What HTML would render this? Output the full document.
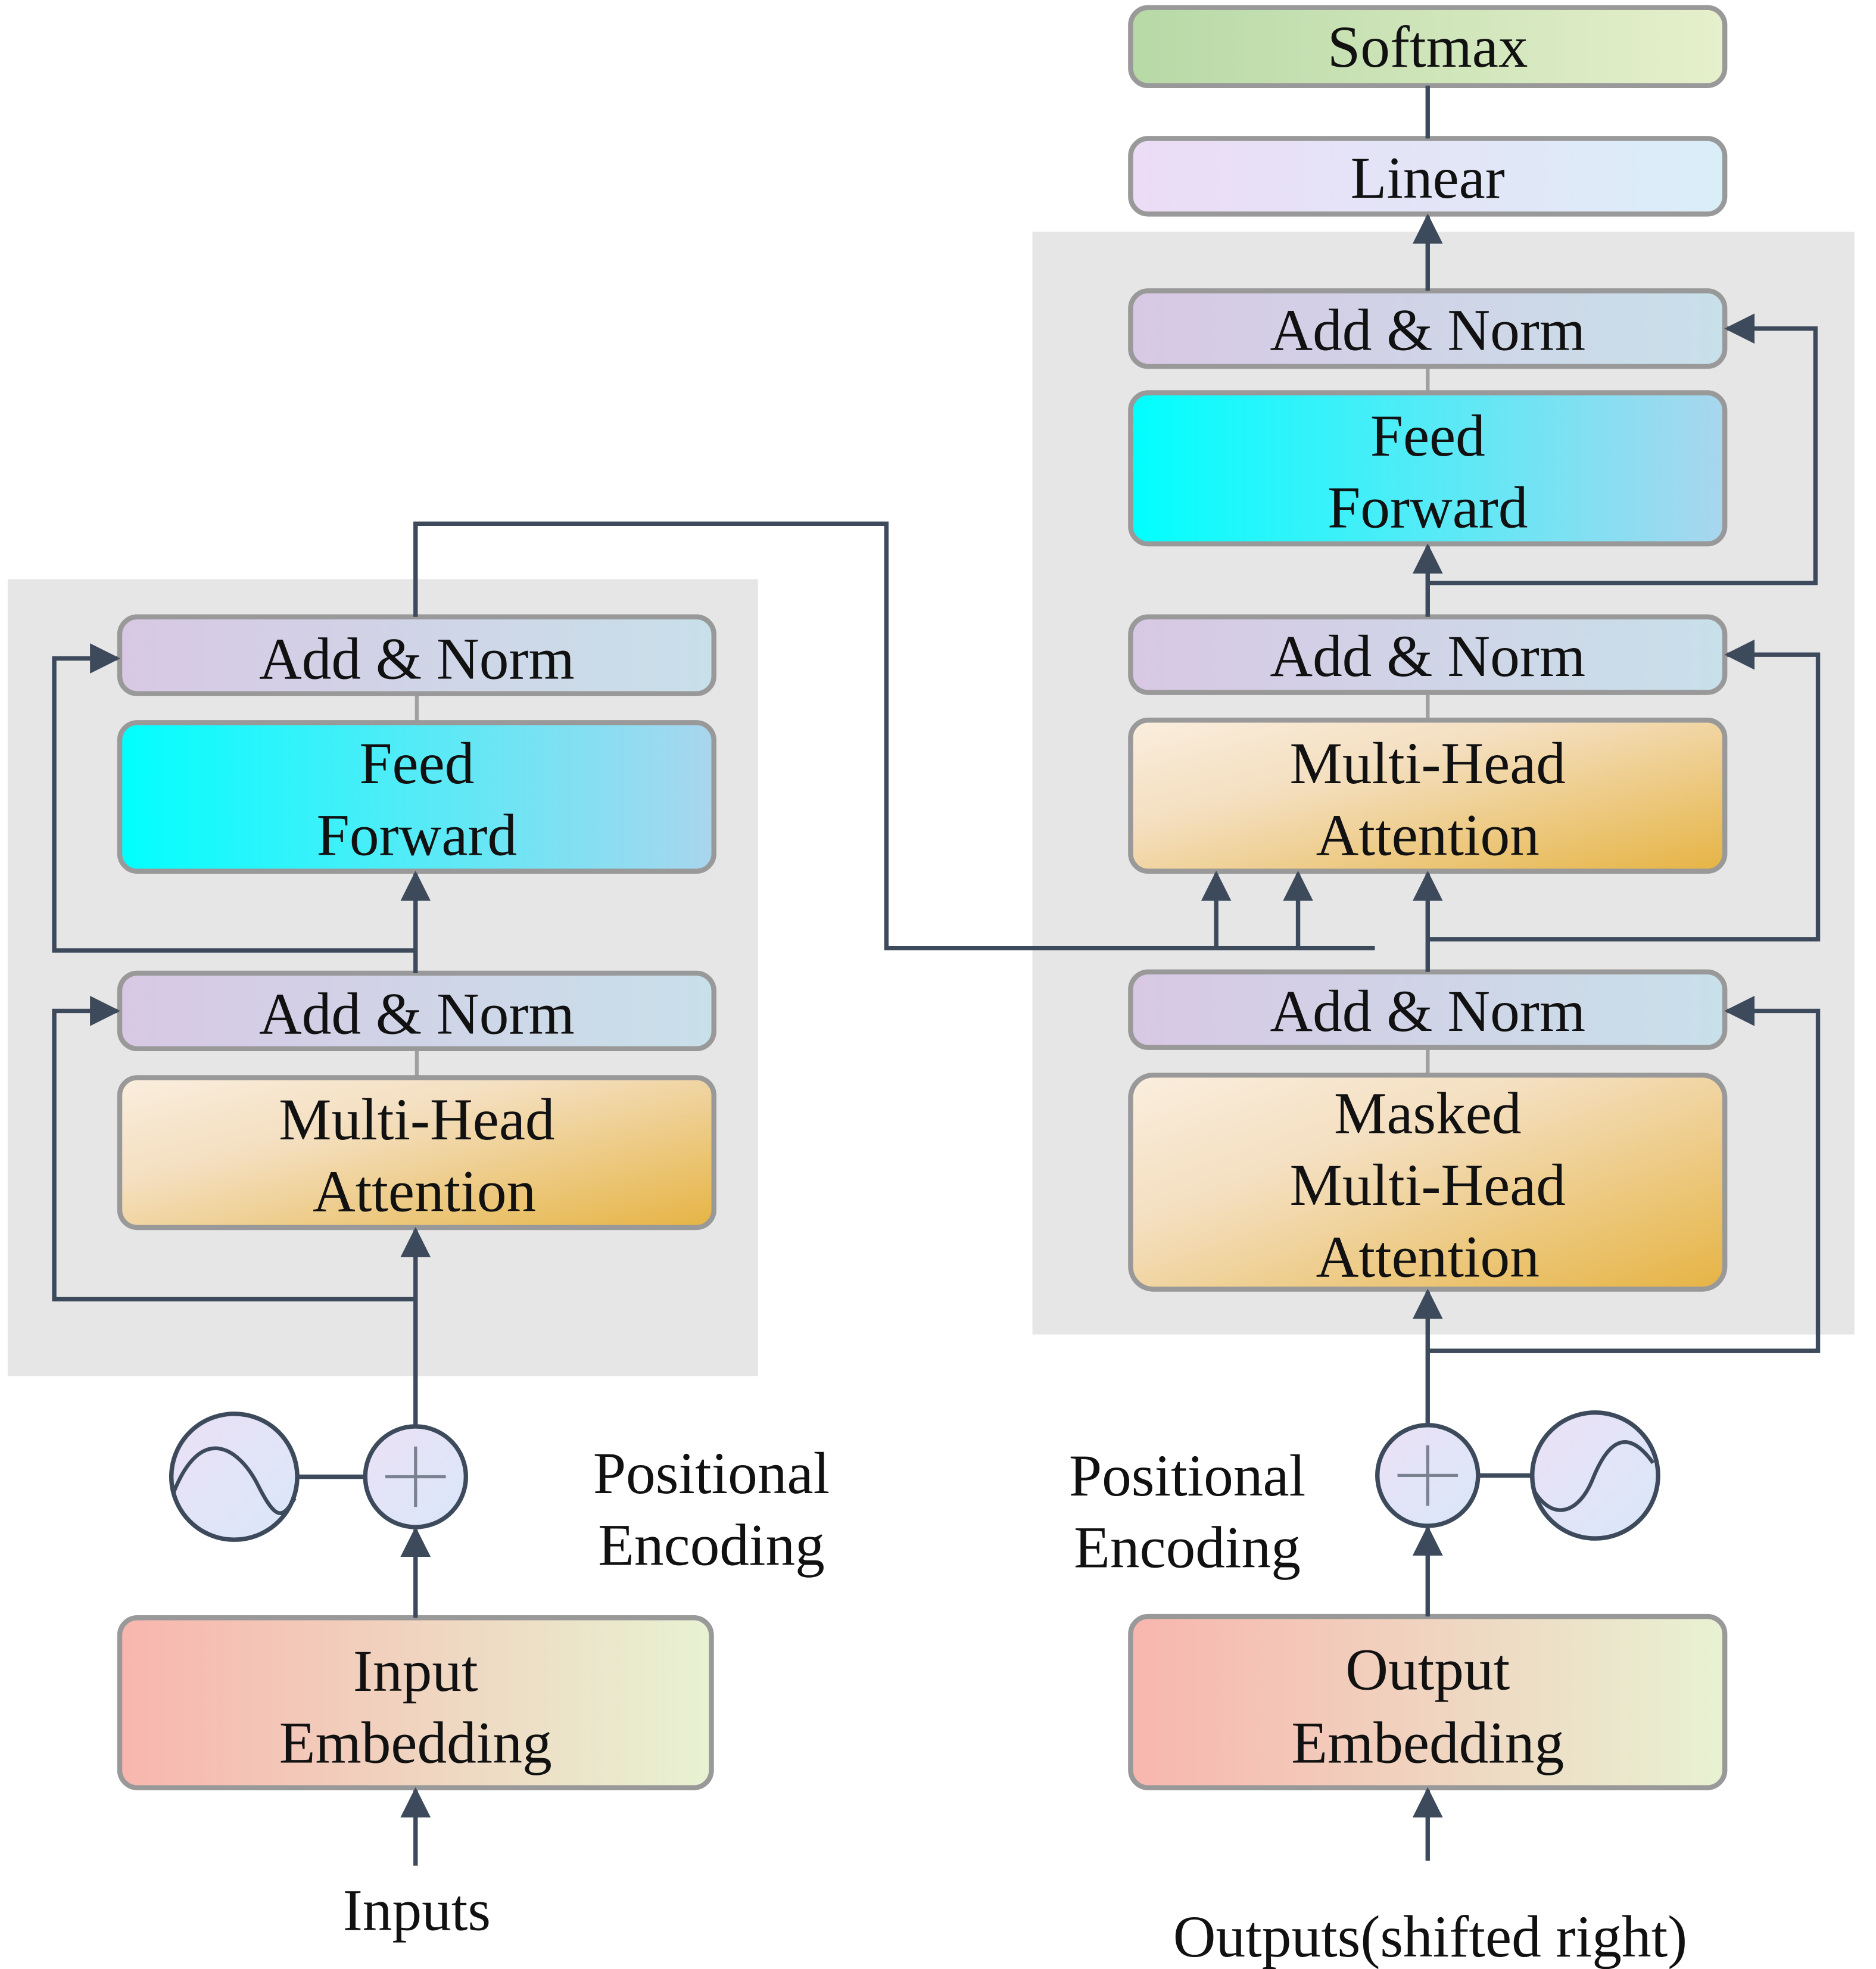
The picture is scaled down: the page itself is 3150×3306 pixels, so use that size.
<!DOCTYPE html>
<html><head><style>html,body{margin:0;padding:0;background:#fff}svg{display:block}</style></head><body>
<svg width="3150" height="3306" viewBox="0 0 1490 1564" xmlns="http://www.w3.org/2000/svg" font-family="Liberation Serif, serif" font-size="47">
<defs>
<linearGradient id="gS" x1="0" y1="0" x2="1" y2="0"><stop offset="0" stop-color="#b7d9a6"/><stop offset="1" stop-color="#e6f0cc"/></linearGradient>
<linearGradient id="gL" x1="0" y1="0" x2="1" y2="0"><stop offset="0" stop-color="#ecdcf6"/><stop offset="1" stop-color="#daeef8"/></linearGradient>
<linearGradient id="gA" x1="0" y1="0" x2="1" y2="0"><stop offset="0" stop-color="#d8c8e4"/><stop offset="1" stop-color="#c8e0ea"/></linearGradient>
<linearGradient id="gF" x1="0" y1="0" x2="1" y2="0"><stop offset="0" stop-color="#00ffff"/><stop offset="1" stop-color="#a9d6ee"/></linearGradient>
<linearGradient id="gM" x1="0" y1="0" x2="1" y2="1"><stop offset="0" stop-color="#faeede"/><stop offset="0.35" stop-color="#f4dfc0"/><stop offset="1" stop-color="#e6b444"/></linearGradient>
<linearGradient id="gE" x1="0" y1="0" x2="1" y2="0"><stop offset="0" stop-color="#f8b6ae"/><stop offset="1" stop-color="#e8f2d2"/></linearGradient>
<linearGradient id="gC" x1="0" y1="0" x2="1" y2="1"><stop offset="0" stop-color="#ece0f6"/><stop offset="1" stop-color="#d8e8f8"/></linearGradient>
<marker id="a2" viewBox="0 0 10 10" refX="9" refY="5" markerWidth="24" markerHeight="24" orient="auto" markerUnits="userSpaceOnUse"><path d="M0,0 L10,5 L0,10z" fill="#3d4a5c"/></marker>
</defs>
<rect x="6" y="460" width="596" height="633" fill="#e6e6e6"/>
<rect x="820" y="184" width="653" height="876" fill="#e6e6e6"/>
<g stroke="#a0a0a0" stroke-width="3">
<line x1="331" y1="551" x2="331" y2="574"/><line x1="331" y1="833" x2="331" y2="856"/>
<line x1="1134" y1="291" x2="1134" y2="312"/><line x1="1134" y1="550" x2="1134" y2="572"/><line x1="1134" y1="832" x2="1134" y2="854"/>
</g>
<g stroke="#999" stroke-width="4">
<rect x="898" y="6" width="472" height="62" rx="14" fill="url(#gS)"/>
<rect x="898" y="110" width="472" height="60" rx="14" fill="url(#gL)"/>
<rect x="898" y="231" width="472" height="60" rx="14" fill="url(#gA)"/>
<rect x="898" y="312" width="472" height="120" rx="14" fill="url(#gF)"/>
<rect x="898" y="490" width="472" height="60" rx="14" fill="url(#gA)"/>
<rect x="898" y="572" width="472" height="120" rx="14" fill="url(#gM)"/>
<rect x="898" y="772" width="472" height="60" rx="14" fill="url(#gA)"/>
<rect x="898" y="854" width="472" height="170" rx="18" fill="url(#gM)"/>
<rect x="898" y="1284" width="472" height="136" rx="14" fill="url(#gE)"/>
<rect x="95" y="490" width="472" height="61" rx="14" fill="url(#gA)"/>
<rect x="95" y="574" width="472" height="118" rx="14" fill="url(#gF)"/>
<rect x="95" y="773" width="472" height="60" rx="14" fill="url(#gA)"/>
<rect x="95" y="856" width="472" height="119" rx="14" fill="url(#gM)"/>
<rect x="95" y="1285" width="470" height="135" rx="14" fill="url(#gE)"/>
</g>
<g stroke="#3d4a5c" stroke-width="3.5" fill="none">
<circle cx="186" cy="1173" r="50" fill="url(#gC)"/>
<circle cx="330" cy="1173" r="40" fill="url(#gC)"/>
<circle cx="1134" cy="1172" r="40" fill="url(#gC)"/>
<circle cx="1267" cy="1172" r="50" fill="url(#gC)"/>
<line x1="236" y1="1173" x2="290" y2="1173"/>
<line x1="1174" y1="1172" x2="1217" y2="1172"/>
<path d="M138,1185 C160,1130 190,1150 205,1180 S225,1205 234,1190" stroke-width="3"/>
<path d="M1219,1185 C1235,1210 1255,1200 1265,1175 S1290,1130 1313,1162" stroke-width="3"/>
</g>
<g stroke="#7a8290" stroke-width="2.5">
<line x1="306" y1="1173" x2="354" y2="1173"/><line x1="330" y1="1149" x2="330" y2="1197"/>
<line x1="1110" y1="1172" x2="1158" y2="1172"/><line x1="1134" y1="1148" x2="1134" y2="1196"/>
</g>
<g stroke="#3d4a5c" stroke-width="3.5" fill="none">
<line x1="330" y1="1482" x2="330" y2="1422" marker-end="url(#a2)"/>
<line x1="330" y1="1285" x2="330" y2="1215" marker-end="url(#a2)"/>
<line x1="330" y1="1133" x2="330" y2="977" marker-end="url(#a2)"/>
<polyline points="330,1032 43,1032 43,803 93,803" marker-end="url(#a2)"/>
<line x1="330" y1="773" x2="330" y2="694" marker-end="url(#a2)"/>
<polyline points="330,755 43,755 43,523 93,523" marker-end="url(#a2)"/>
<polyline points="330,490 330,416 704,416 704,753 1092,753"/>
<line x1="966" y1="753" x2="966" y2="694" marker-end="url(#a2)"/>
<line x1="1031" y1="753" x2="1031" y2="694" marker-end="url(#a2)"/>
<line x1="1134" y1="1478" x2="1134" y2="1422" marker-end="url(#a2)"/>
<line x1="1134" y1="1284" x2="1134" y2="1214" marker-end="url(#a2)"/>
<line x1="1134" y1="1132" x2="1134" y2="1026" marker-end="url(#a2)"/>
<polyline points="1134,1073 1444,1073 1444,803 1372,803" marker-end="url(#a2)"/>
<line x1="1134" y1="772" x2="1134" y2="694" marker-end="url(#a2)"/>
<polyline points="1134,746 1444,746 1444,520 1372,520" marker-end="url(#a2)"/>
<line x1="1134" y1="490" x2="1134" y2="434" marker-end="url(#a2)"/>
<polyline points="1134,463 1442,463 1442,261 1372,261" marker-end="url(#a2)"/>
<line x1="1134" y1="231" x2="1134" y2="172" marker-end="url(#a2)"/>
<line x1="1134" y1="110" x2="1134" y2="68"/>
</g>
<g text-anchor="middle" fill="#111">
<text x="1134" y="53">Softmax</text>
<text x="1134" y="157">Linear</text>
<text x="1134" y="278">Add &amp; Norm</text>
<text x="1134" y="362">Feed</text><text x="1134" y="419">Forward</text>
<text x="1134" y="537">Add &amp; Norm</text>
<text x="1134" y="622">Multi-Head</text><text x="1134" y="679">Attention</text>
<text x="1134" y="819">Add &amp; Norm</text>
<text x="1134" y="900">Masked</text><text x="1134" y="957">Multi-Head</text><text x="1134" y="1014">Attention</text>
<text x="1134" y="1342">Output</text><text x="1134" y="1400">Embedding</text>
<text x="331" y="539">Add &amp; Norm</text>
<text x="331" y="622">Feed</text><text x="331" y="679">Forward</text>
<text x="331" y="821">Add &amp; Norm</text>
<text x="331" y="905">Multi-Head</text><text x="337" y="962">Attention</text>
<text x="330" y="1343">Input</text><text x="330" y="1400">Embedding</text>
<text x="565" y="1186">Positional</text><text x="565" y="1243">Encoding</text>
<text x="943" y="1188">Positional</text><text x="943" y="1245">Encoding</text>
<text x="331" y="1533">Inputs</text>
<text x="1136" y="1554">Outputs(shifted right)</text>
</g>
</svg>
</body></html>
